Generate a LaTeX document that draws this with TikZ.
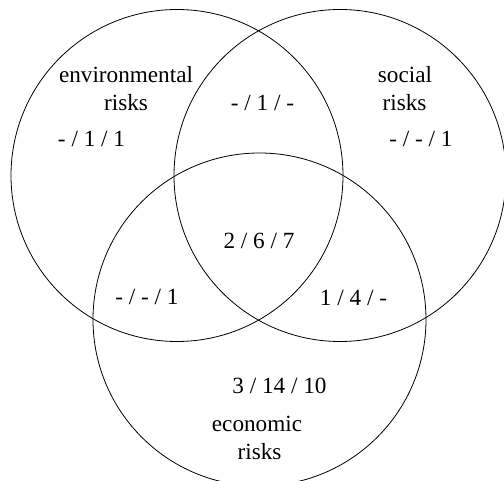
\documentclass[tikz,border=0pt]{standalone}
\usepackage{fontspec}
\setmainfont{Liberation Serif}
\begin{document}
\begin{tikzpicture}[x=1pt,y=-1pt,
  ring/.style={draw=black,line width=0.8pt},
  lbl/.style={inner sep=0pt,anchor=base,font=\fontsize{23.2}{28}\selectfont}]
\useasboundingbox (0,0) rectangle (504,481);
\draw[ring] (177,175.5) circle[radius=166];
\draw[ring] (340,175.5) circle[radius=166];
\draw[ring] (259.5,319.5) circle[radius=166.5];
% labels
\node[lbl] (env1) at (126,82.7) {environmental};
\node[lbl] (env2) at (126,111) {risks};
\node[lbl] (soc1) at (405,82.7) {social};
\node[lbl] (soc2) at (404.5,111) {risks};
\node[lbl] (eco1) at (257,431.7) {economic};
\node[lbl] (eco2) at (259.5,460) {risks};
% counts
\node[lbl] (e) at (91.5,146.7) {- / 1 / 1};
\node[lbl] (s) at (421,146.7) {- / - / 1};
\node[lbl] (es) at (262.5,111) {- / 1 / -};
\node[lbl] (ese) at (259,248.3) {2 / 6 / 7};
\node[lbl] (ee) at (147,305) {- / - / 1};
\node[lbl] (se) at (353.5,306) {1 / 4 / -};
\node[lbl] (c) at (279.5,393.3) {3 / 14 / 10};
\end{tikzpicture}
\end{document}
